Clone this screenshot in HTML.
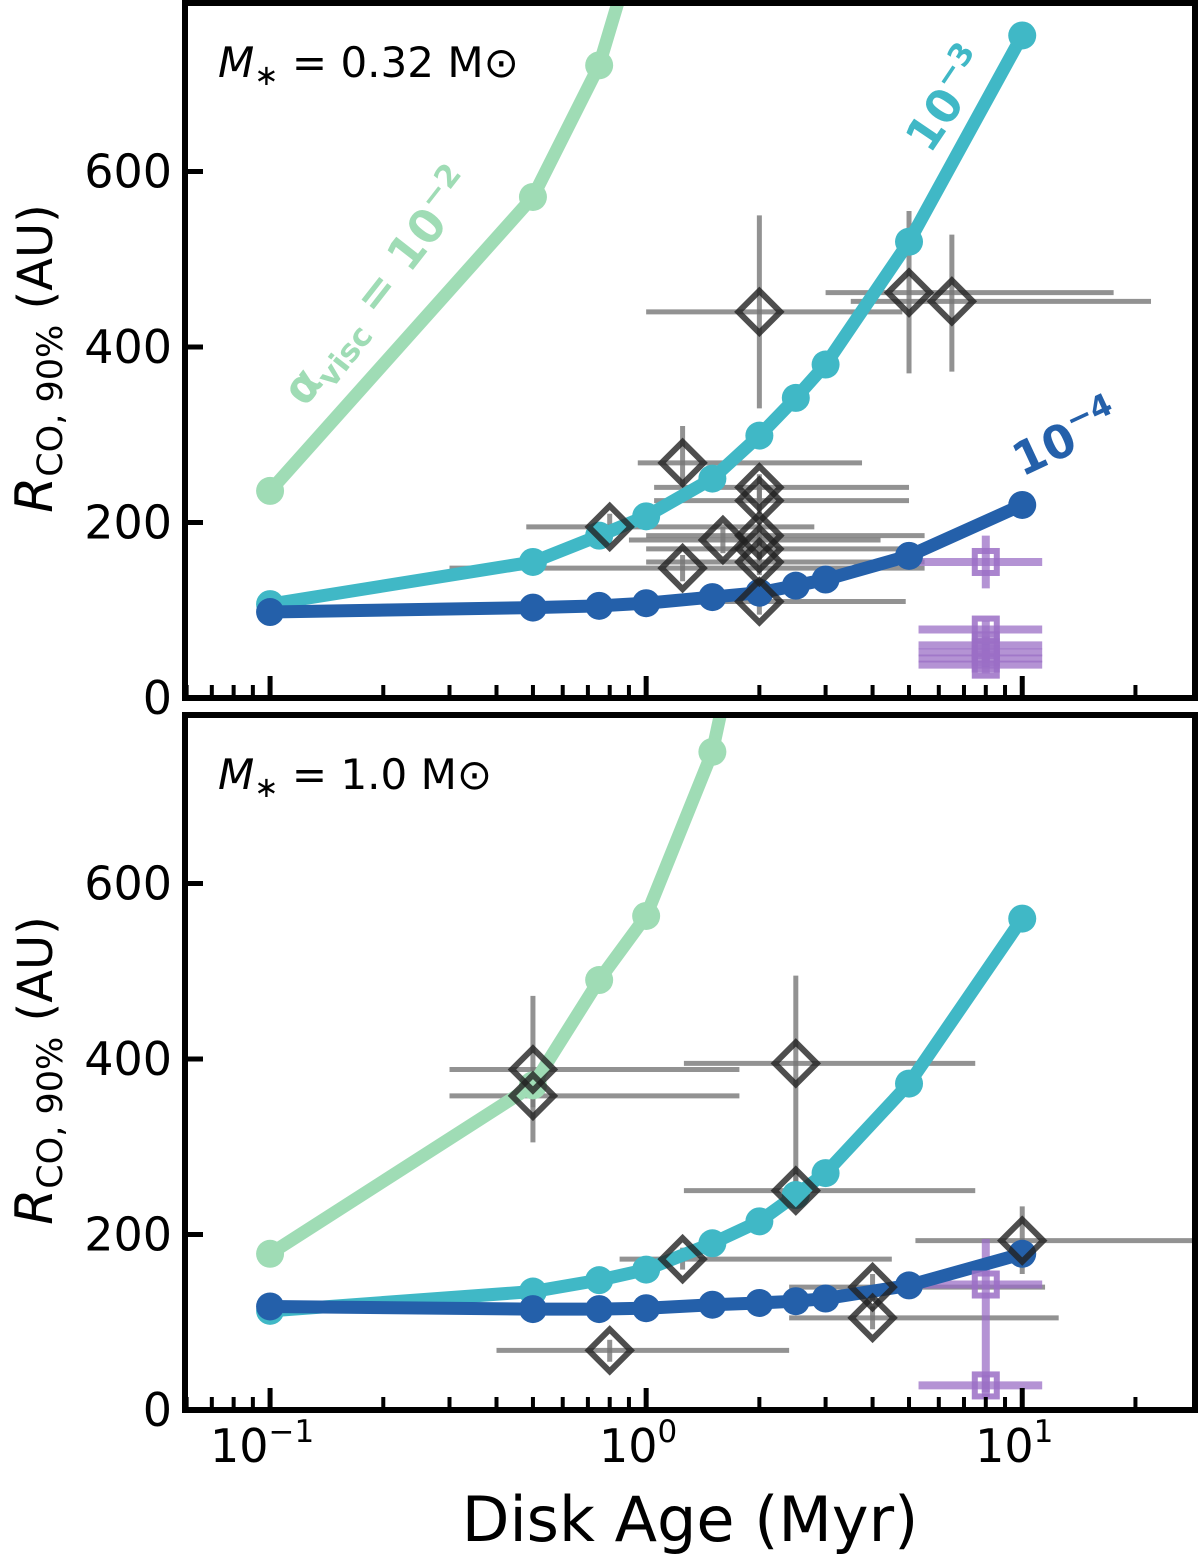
<!DOCTYPE html>
<html><head><meta charset="utf-8"><style>
html,body{margin:0;padding:0;background:#fff;}
svg{display:block;font-family:"DejaVu Sans","Liberation Sans",sans-serif;}
</style></head><body>
<svg id="chart" width="1200" height="1556" viewBox="0 0 1200 1556"></svg>
<script>
const ages = [0.1,0.5,0.75,1.0,1.5,2.0,2.5,3.0,5.0,10.0];
// top panel (M=0.32)
const topA2 = [236,571,721,900,1300,null,null,null,null,null];
const topA3 = [107,155,185,207,250,299,342,380,520,755];
const topA4 = [98,103,105,108,115,120,128,135,162,220];
// bottom panel (M=1.0)
const botA2 = [178,370,490,563,750,1000,null,null,null,null];
const botA3 = [113,135,148,160,190,215,245,270,372,560];
const botA4 = [118,115,115,116,120,122,124,127,142,178];
// observations
const topObsAge = [0.8,1.25,2.0,5.0,6.5,2.0,2.0,2.0,2.0,2.0,2.0,1.6,1.25];
const topObsR   = [195,268,440,462,452,240,225,185,170,155,110,180,148];
const topObsAgeLo=[0.48,0.95,1.0,3.0,3.5,1.05,1.05,1.0,1.0,1.0,1.0,0.9,0.3];
const topObsAgeHi=[2.8,3.75,4.8,17.5,22,5.0,5.0,5.5,5.5,5.5,4.9,4.2,5.5];
const topObsRLo = [180,240,330,370,372,225,210,170,155,140,95,165,133];
const topObsRHi = [210,310,550,555,528,255,240,200,185,170,125,195,163];
const topSqAge = [8,8,8,8,8,8];
const topSqR   = [155,78,60,52,45,38];
const botObsAge = [0.5,0.5,2.5,2.5,1.25,0.8,4.0,4.0,10.0];
const botObsR   = [388,358,395,250,172,68,140,105,193];
const botObsAgeLo=[0.3,0.3,1.26,1.26,0.85,0.4,2.4,2.4,5.2];
const botObsAgeHi=[1.77,1.77,7.5,7.5,4.5,2.4,11.5,12.5,30];
const botObsRLo = [305,345,245,230,160,55,125,92,155];
const botObsRHi = [472,372,495,270,185,80,155,118,232];
const botSqAge = [8,8];
const botSqR   = [143,28];
const botSqRLo = [20,15];
const botSqRHi = [195,40];
const yTicks = [0,200,400,600];

const NS="http://www.w3.org/2000/svg";
const svg=document.getElementById('chart');
const X0=185,X1=1195,LMIN=Math.log10(0.0594),LMAX=Math.log10(28.8);
function sx(a){return X0+(Math.log10(a)-LMIN)/(LMAX-LMIN)*(X1-X0);}
function mk(tag,attrs,parent){const e=document.createElementNS(NS,tag);for(const k in attrs)e.setAttribute(k,attrs[k]);(parent||svg).appendChild(e);return e;}

function panel(p){
  const g=mk('g',{});
  
  
  const sy=v=>p.y0-(v)*0.8775;
  const cid='clip'+p.name;
  const cp=mk('clipPath',{id:cid},g);mk('rect',{x:X0,y:p.top,width:X1-X0,height:p.y0-p.top},cp);
  const pg=mk('g',{'clip-path':`url(#${cid})`},g);
  function obs(ageA,rA,lo,hi,rlo,rhi,color,op,w){
    const eb=mk('g',{},pg);
    
    
    for(let i=0;i<ageA.length;i++){
      mk('line',{x1:sx(lo[i]),x2:sx(hi[i]),y1:sy(rA[i]),y2:sy(rA[i]),stroke:color,'stroke-width':w,opacity:op},eb);
      mk('line',{x1:sx(ageA[i]),x2:sx(ageA[i]),y1:sy(rlo[i]),y2:sy(rhi[i]),stroke:color,'stroke-width':w,opacity:op},eb);
    }
  }
  obs(p.oa,p.or,p.olo,p.ohi,p.orlo,p.orhi,'#777',0.8,5);
  const sqLo=p.sqa.map(()=>5.3),sqHi=p.sqa.map(()=>11.3);
  obs(p.sqa,p.sqr,sqLo,sqHi,p.sqrlo,p.sqrhi,'#9b6fc6',0.75,8);
  function series(vals,color,name){
    const sg=mk('g',{},pg);
    
    
    const pts=[];
    ages.forEach((a,i)=>{if(vals[i]!=null)pts.push([sx(a),sy(vals[i])]);});
    mk('polyline',{points:pts.map(q=>q.join(',')).join(' '),fill:'none',stroke:color,'stroke-width':13,'stroke-linejoin':'round'},sg);
    pts.forEach(q=>mk('circle',{cx:q[0],cy:q[1],r:14,fill:color},sg));
  }
  series(p.a2,'#9fdcb5','series-alpha-1e-2');
  series(p.a3,'#40b8c6','series-alpha-1e-3');
  series(p.a4,'#2460aa','series-alpha-1e-4');
  const dg=mk('g',{},pg);
  
  
  p.oa.forEach((a,i)=>{const x=sx(a),y=sy(p.or[i]);
    mk('polygon',{points:`${x},${y-21} ${x+21},${y} ${x},${y+21} ${x-21},${y}`,fill:'none',stroke:'#222','stroke-width':6,opacity:0.8},dg);});
  const qg=mk('g',{},pg);
  
  
  p.sqa.forEach((a,i)=>{const x=sx(a),y=sy(p.sqr[i]);
    mk('rect',{x:x-11,y:y-11,width:22,height:22,fill:'none',stroke:'#9b6fc6','stroke-width':6,opacity:0.85},qg);});
  const fr=mk('rect',{x:X0,y:p.top,width:X1-X0,height:p.y0-p.top,fill:'none',stroke:'#000','stroke-width':6},g);
  
  
  for(let d=-2;d<=1;d++)for(let m=1;m<10;m++){const v=m*Math.pow(10,d);if(v<0.0594||v>28.8)continue;
    const x=sx(v),L=m==1?22:13;mk('line',{x1:x,x2:x,y1:p.y0,y2:p.y0-L,stroke:'#000','stroke-width':m==1?5:4},g);}
  yTicks.forEach(v=>{const y=sy(v);mk('line',{x1:X0,x2:X0+18,y1:y,y2:y,stroke:'#000','stroke-width':5},g);
    const t=mk('text',{x:172,y:y+16,'font-size':46,'text-anchor':'end'},g);t.textContent=v;
    });
  const yl=mk('text',{transform:`translate(52,${(p.top+p.y0)/2+8}) rotate(-90)`,'font-size':48,'text-anchor':'middle'},g);
  
  yl.innerHTML='<tspan font-style="italic" font-size="52">R</tspan><tspan font-size="35" dy="10">CO, 90%</tspan><tspan dy="-10"> (AU)</tspan>';
  const ml=mk('text',{x:218,y:p.top+74,'font-size':42},g);
  
  ml.innerHTML='<tspan font-style="italic">M</tspan><tspan font-size="29" dy="8">∗</tspan><tspan dy="-8"> = '+p.mass+' M</tspan><tspan>⊙</tspan>';
  return sy;
}
panel({name:'top-panel',top:3,y0:698,a2:topA2,a3:topA3,a4:topA4,oa:topObsAge,or:topObsR,olo:topObsAgeLo,ohi:topObsAgeHi,orlo:topObsRLo,orhi:topObsRHi,
  sqa:topSqAge,sqr:topSqR,sqrlo:topSqR.map((v,i)=>i==0?125:v-10),sqrhi:topSqR.map((v,i)=>i==0?185:v+10),mass:'0.32'});
panel({name:'bottom-panel',top:715,y0:1410,a2:botA2,a3:botA3,a4:botA4,oa:botObsAge,or:botObsR,olo:botObsAgeLo,ohi:botObsAgeHi,orlo:botObsRLo,orhi:botObsRHi,
  sqa:botSqAge,sqr:botSqR,sqrlo:botSqRLo,sqrhi:botSqRHi,mass:'1.0'});
[[0.1,'−1'],[1,'0'],[10,'1']].forEach(([v,e])=>{const t=mk('text',{x:sx(v)-8,y:1462,'font-size':46,'text-anchor':'middle'});
  t.innerHTML='10<tspan font-size="31" dy="-20">'+e+'</tspan>';
  });
const xl=mk('text',{x:690,y:1541,'font-size':62,'text-anchor':'middle'});xl.textContent='Disk Age (Myr)';

const l2=mk('text',{transform:'translate(305,408) rotate(-52)','font-size':46,'font-weight':'bold',fill:'#9fdcb5'});
l2.innerHTML='α<tspan font-size="31" dy="10">visc</tspan><tspan dy="-10"> = 10</tspan><tspan font-size="31" dy="-20">−2</tspan>';

const l3=mk('text',{transform:'translate(930,155) rotate(-56)','font-size':46,'font-weight':'bold',fill:'#40b8c6'});
l3.innerHTML='10<tspan font-size="31" dy="-20">−3</tspan>';

const l4=mk('text',{transform:'translate(1022,477) rotate(-25)','font-size':46,'font-weight':'bold',fill:'#2460aa'});
l4.innerHTML='10<tspan font-size="31" dy="-20">−4</tspan>';

</script>
</body></html>
